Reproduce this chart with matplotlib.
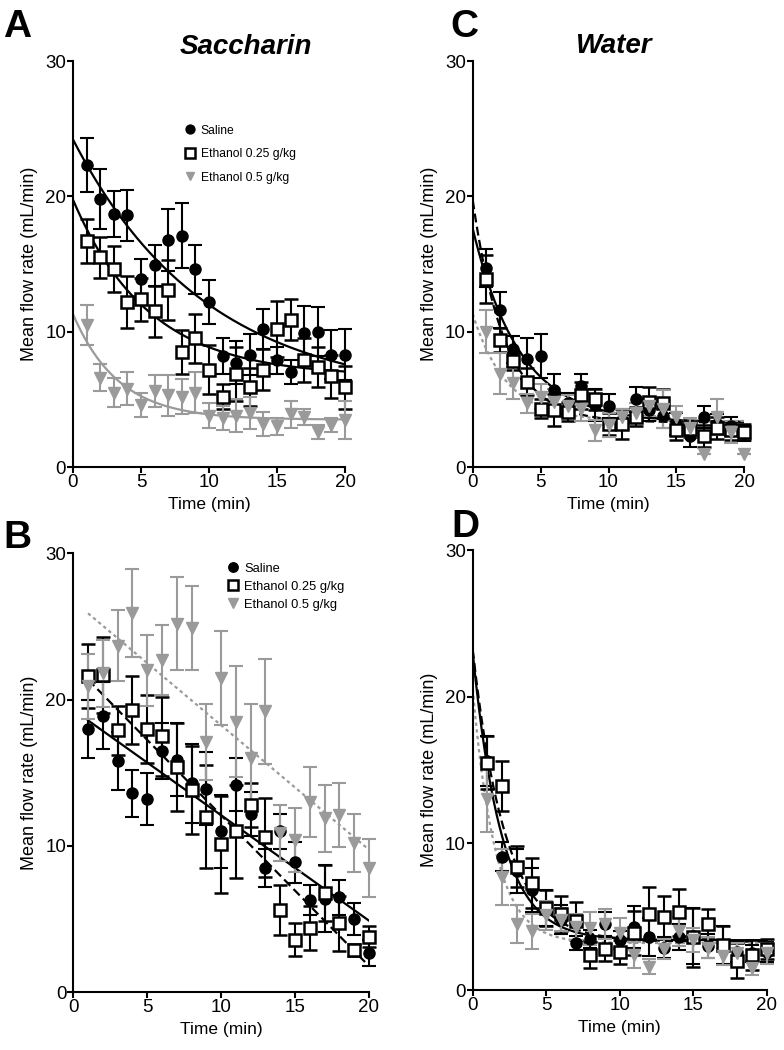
import matplotlib
matplotlib.use("Agg")
import matplotlib.pyplot as plt
import numpy as np
from matplotlib.lines import Line2D

plt.rcParams["font.family"] = ["Liberation Sans", "DejaVu Sans"]

time = np.arange(1, 21)
labels = ["Saline", "Ethanol 0.25 g/kg", "Ethanol 0.5 g/kg"]

# A - saccharin, one-phase decay fits
a_saline = [22.3, 19.8, 18.7, 18.6, 13.9, 14.9, 16.8, 17.1, 14.6, 12.2,
            8.2, 7.7, 8.3, 10.2, 7.9, 7.0, 9.9, 10.0, 8.3, 8.3]
a_saline_err = [2.0, 2.2, 1.7, 1.9, 1.5, 1.5, 2.3, 2.4, 1.8, 1.6,
                1.3, 1.6, 1.5, 1.5, 1.0, 0.9, 2.0, 1.8, 1.8, 1.9]
a_eth025 = [16.7, 15.5, 14.6, 12.2, 12.4, 11.5, 13.1, 8.5, 9.5, 7.2,
            5.2, 6.9, 5.9, 7.2, 10.2, 10.9, 7.9, 7.4, 6.7, 5.9]
a_eth025_err = [1.6, 1.5, 1.7, 1.9, 1.6, 1.9, 2.2, 1.6, 1.8, 1.8,
                0.9, 2.0, 1.4, 1.5, 2.1, 1.5, 1.6, 1.5, 1.6, 1.6]
a_eth05 = [10.5, 6.6, 5.5, 5.8, 4.6, 5.6, 5.3, 5.2, 5.5, 3.8,
           3.6, 3.8, 4.0, 3.2, 3.0, 3.9, 3.7, 2.6, 3.1, 3.5]
a_eth05_err = [1.5, 1.0, 1.1, 1.2, 0.9, 1.2, 1.5, 1.3, 1.5, 0.9,
               0.9, 1.2, 1.2, 0.9, 0.6, 1.0, 0.6, 0.5, 0.5, 1.4]
a_fit = [(24.2, 5.1, 0.102), (19.75, 6.7, 0.18), (11.3, 3.5, 0.30)]  # Y0, plateau, K

# B - saccharin, linear fits
b_saline = [18.0, 18.9, 15.8, 13.6, 13.2, 16.5, 15.9, 14.3, 13.9, 11.0,
            14.2, 12.2, 8.5, 11.0, 8.9, 6.3, 6.4, 6.5, 5.0, 2.7]
b_saline_err = [2.0, 2.3, 2.0, 1.6, 1.8, 1.9, 2.5, 2.7, 2.5, 2.5,
                1.8, 1.5, 1.3, 1.2, 1.4, 1.0, 2.3, 1.2, 1.1, 0.9]
b_eth025 = [21.6, 21.7, 17.9, 19.3, 18.0, 17.5, 15.4, 13.8, 12.0, 10.1,
            11.0, 12.8, 10.6, 5.6, 3.6, 4.4, 6.8, 4.7, 2.9, 3.8]
b_eth025_err = [2.2, 2.6, 1.7, 2.3, 2.3, 2.7, 3.0, 3.0, 3.5, 3.3,
                3.2, 1.5, 2.7, 1.7, 1.1, 1.5, 1.9, 1.9, 0.4, 0.7]
b_eth05 = [20.9, 21.8, 23.7, 25.9, 22.0, 22.7, 25.2, 24.9, 17.1, 21.5,
           18.5, 16.0, 19.2, 10.9, 10.4, 13.0, 11.9, 12.1, 10.2, 8.5]
b_eth05_err = [2.2, 2.3, 2.4, 3.0, 2.4, 2.4, 3.2, 2.9, 2.6, 3.2,
               3.8, 3.7, 3.6, 1.9, 2.2, 2.4, 2.3, 2.2, 2.0, 2.0]
b_fit = [(19.3, -0.72), (22.4, -1.03), (26.75, -0.85)]  # intercept, slope

# C - water
c_saline = [14.7, 11.6, 8.7, 8.0, 8.2, 5.7, 4.7, 6.0, 4.6, 4.5,
            3.5, 5.0, 4.2, 3.8, 3.2, 2.3, 3.7, 3.2, 3.0, 2.5]
c_saline_err = [1.4, 1.3, 1.0, 1.5, 1.6, 1.2, 0.8, 0.9, 1.2, 0.9,
                0.8, 0.9, 0.8, 0.9, 0.8, 0.8, 0.8, 0.7, 0.7, 0.6]
c_eth025 = [13.9, 9.4, 7.8, 6.3, 4.3, 4.2, 4.1, 5.3, 5.0, 3.2,
            3.2, 3.7, 4.8, 4.7, 2.7, 2.8, 2.3, 2.9, 2.7, 2.6]
c_eth025_err = [1.8, 0.9, 0.6, 1.0, 0.7, 1.2, 0.7, 1.0, 0.8, 0.8,
                1.1, 0.7, 1.1, 1.1, 0.7, 0.6, 0.8, 0.8, 0.7, 0.6]
c_eth05 = [10.0, 6.9, 6.2, 4.7, 5.2, 4.8, 4.5, 4.3, 2.7, 3.1,
           3.7, 4.0, 4.5, 4.3, 3.7, 2.9, 1.0, 3.7, 2.6, 1.0]
c_eth05_err = [1.6, 1.5, 1.2, 0.7, 0.9, 1.0, 0.8, 0.9, 0.8, 0.9,
               0.6, 0.7, 0.7, 1.4, 0.8, 0.7, 0.0, 1.3, 0.8, 0.0]
c_fit = [(17.6, 3.3, 0.29), (19.7, 3.3, 0.42), (11.3, 3.4, 0.40)]

# D - water
d_saline = [15.6, 9.1, 8.1, 6.8, 5.6, 4.8, 3.2, 3.5, 4.5, 3.4,
            4.3, 3.6, 2.9, 3.6, 3.7, 3.0, 3.1, 2.6, 2.5, 2.6]
d_saline_err = [1.7, 1.0, 1.5, 1.5, 1.2, 1.0, 0.5, 0.6, 0.8, 0.6,
                1.4, 1.3, 0.7, 0.9, 1.9, 0.8, 1.3, 0.7, 0.6, 0.7]
d_eth025 = [15.5, 13.9, 8.4, 7.3, 5.6, 5.2, 4.7, 2.4, 2.8, 2.6,
            3.9, 5.2, 5.0, 5.3, 3.6, 4.5, 3.1, 2.0, 2.4, 2.8]
d_eth025_err = [1.8, 1.7, 1.4, 1.7, 1.2, 1.2, 1.3, 0.9, 0.8, 0.8,
                1.5, 1.8, 1.4, 1.6, 2.0, 1.0, 1.3, 1.2, 1.0, 0.7]
d_eth05 = [13.0, 7.7, 4.5, 4.0, 5.1, 4.8, 4.3, 4.2, 4.5, 3.9,
           2.4, 1.6, 2.8, 4.0, 3.4, 2.9, 2.3, 2.5, 1.5, 2.5]
d_eth05_err = [2.2, 1.9, 1.3, 1.2, 1.0, 0.8, 0.9, 1.1, 1.0, 1.0,
               0.9, 0.5, 0.7, 1.0, 0.8, 0.7, 0.6, 0.7, 0.5, 0.7]
d_fit = [(23.0, 3.4, 0.51), (23.2, 3.3, 0.45), (20.5, 3.2, 0.65)]

GRAY = "#9a9a9a"
marker_kw = [
    dict(marker="o", ms=8, mfc="black", mec="black", color="black"),
    dict(marker="s", ms=9, mfc="white", mec="black", mew=1.8, color="black"),
    dict(marker="v", ms=8, mfc=GRAY, mec=GRAY, color=GRAY),
]


def style_axes(ax):
    ax.set_xlim(0, 20)
    ax.set_ylim(0, 30)
    ax.set_xticks([0, 5, 10, 15, 20])
    ax.set_yticks([0, 10, 20, 30])
    for s in ["top", "right"]:
        ax.spines[s].set_visible(False)
    for s in ["left", "bottom"]:
        ax.spines[s].set_linewidth(1.5)
    ax.tick_params(direction="out", length=4, width=1.5, labelsize=13.5, pad=1)
    ax.set_ylabel("Mean flow rate (mL/min)", fontsize=13, labelpad=5)
    ax.set_xlabel("Time (min)", fontsize=12.5, labelpad=4)
    ax.patch.set_alpha(0)


def draw_points(ax, series):
    for (vals, errs), kw in zip(series, marker_kw):
        ax.errorbar(time, vals, yerr=errs, ls="none", capsize=5, capthick=1.5,
                    elinewidth=1.5, ecolor=kw["color"], clip_on=False,
                    **{k: v for k, v in kw.items() if k != "color"})


def draw_decay(ax, fits, styles):
    xx = np.linspace(0, 20, 200)
    for (y0, plat, k), (c, ls) in zip(fits, styles):
        ax.plot(xx, (y0 - plat) * np.exp(-k * xx) + plat, color=c, ls=ls, lw=1.6)


fig = plt.figure(figsize=(7.84, 10.5), dpi=100)

axA = fig.add_axes([0.0931, 0.5552, 0.347, 0.3867])
axC = fig.add_axes([0.603, 0.5552, 0.3464, 0.3867])
axB = fig.add_axes([0.0935, 0.055, 0.377, 0.418])
axD = fig.add_axes([0.603, 0.0571, 0.375, 0.419])

dashed = (0, (4, 2))
dotted = (0, (1.5, 1.5))

# A
draw_decay(axA, a_fit, [("black", "-"), ("black", "-"), (GRAY, "-")])
draw_points(axA, [(a_saline, a_saline_err), (a_eth025, a_eth025_err), (a_eth05, a_eth05_err)])
style_axes(axA)

# C
draw_decay(axC, c_fit, [("black", "-"), ("black", dashed), (GRAY, dotted)])
draw_points(axC, [(c_saline, c_saline_err), (c_eth025, c_eth025_err), (c_eth05, c_eth05_err)])
style_axes(axC)

# B
xl = np.linspace(1, 20, 50)
for (b0, m), (c, ls) in zip(b_fit, [("black", "-"), ("black", dashed), (GRAY, dotted)]):
    axB.plot(xl, b0 + m * xl, color=c, ls=ls, lw=1.6)
draw_points(axB, [(b_saline, b_saline_err), (b_eth025, b_eth025_err), (b_eth05, b_eth05_err)])
style_axes(axB)

# D
draw_decay(axD, d_fit, [("black", "-"), ("black", dashed), (GRAY, dotted)])
draw_points(axD, [(d_saline, d_saline_err), (d_eth025, d_eth025_err), (d_eth05, d_eth05_err)])
style_axes(axD)


def leg_handles(scale):
    hs = []
    for kw in marker_kw:
        k = dict(kw)
        k["ms"] = k["ms"] * scale
        hs.append(Line2D([], [], ls="none", **k))
    return hs


axA.legend(leg_handles(0.8), labels, loc="upper left", bbox_to_anchor=(0.39, 0.855),
           frameon=False, fontsize=8.7, handlelength=1.0, handletextpad=0.4,
           labelspacing=0.95, borderaxespad=0)
axB.legend(leg_handles(0.85), labels, loc="upper left", bbox_to_anchor=(0.5, 0.99),
           frameon=False, fontsize=9.3, handlelength=1.0, handletextpad=0.4,
           labelspacing=0.45, borderaxespad=0)

# panel letters and titles
for letter, x, y in [("A", 0.004, 0.965), ("C", 0.574, 0.965), ("B", 0.004, 0.478), ("D", 0.576, 0.489)]:
    fig.text(x, y, letter, fontsize=28, fontweight="bold", va="baseline", ha="left")
fig.text(0.314, 0.9486, "Saccharin", fontsize=20, fontweight="bold", style="italic",
         ha="center", va="baseline")
fig.text(0.783, 0.9495, "Water", fontsize=20, fontweight="bold", style="italic",
         ha="center", va="baseline")

fig.savefig("out.png", dpi=100)
